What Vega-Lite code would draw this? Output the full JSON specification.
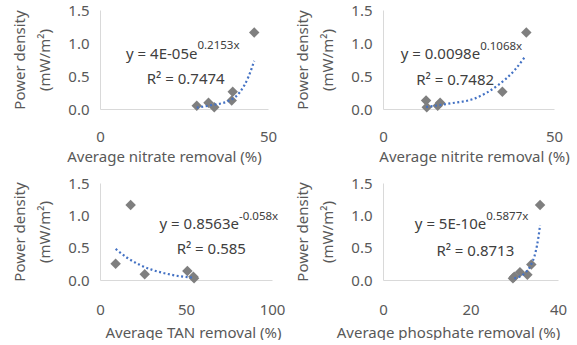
{
  "$schema": "https://vega.github.io/schema/vega-lite/v6.json",
  "padding": {"left": 12, "top": 3, "right": 5, "bottom": 0},
  "background": "white",
  "datasets": {
    "nitrate": [
      {"removal": 28.8, "power": 0.05}, {"removal": 32.3, "power": 0.095}, {"removal": 34.0, "power": 0.026},
      {"removal": 39.2, "power": 0.13}, {"removal": 39.5, "power": 0.26}, {"removal": 45.9, "power": 1.16}
    ],
    "nitrate_trend": [
      {"removal": 28.8, "power": 0.02}, {"removal": 33.3, "power": 0.06}, {"removal": 38.2, "power": 0.12},
      {"removal": 41.7, "power": 0.26}, {"removal": 44.2, "power": 0.49}, {"removal": 45.9, "power": 0.73}
    ],
    "nitrite": [
      {"removal": 12.6, "power": 0.13}, {"removal": 12.8, "power": 0.026}, {"removal": 16.0, "power": 0.05},
      {"removal": 16.7, "power": 0.095}, {"removal": 34.9, "power": 0.26}, {"removal": 41.9, "power": 1.16}
    ],
    "nitrite_trend": [
      {"removal": 12.6, "power": 0.03}, {"removal": 19.0, "power": 0.08}, {"removal": 26.8, "power": 0.16},
      {"removal": 33.6, "power": 0.36}, {"removal": 38.5, "power": 0.59}, {"removal": 41.5, "power": 0.79}
    ],
    "tan": [
      {"removal": 9.1, "power": 0.25}, {"removal": 17.8, "power": 1.16}, {"removal": 26.0, "power": 0.09},
      {"removal": 50.8, "power": 0.14}, {"removal": 54.3, "power": 0.05}, {"removal": 54.7, "power": 0.026}
    ],
    "tan_trend": [
      {"removal": 9.1, "power": 0.48}, {"removal": 16.0, "power": 0.34}, {"removal": 22.7, "power": 0.24},
      {"removal": 30.0, "power": 0.16}, {"removal": 38.2, "power": 0.1}, {"removal": 46.0, "power": 0.06},
      {"removal": 54.7, "power": 0.036}
    ],
    "phosphate": [
      {"removal": 29.7, "power": 0.026}, {"removal": 30.0, "power": 0.05}, {"removal": 31.3, "power": 0.12},
      {"removal": 33.0, "power": 0.08}, {"removal": 33.9, "power": 0.24}, {"removal": 35.9, "power": 1.16}
    ],
    "phosphate_trend": [
      {"removal": 30.0, "power": 0.026}, {"removal": 32.3, "power": 0.1}, {"removal": 33.8, "power": 0.23},
      {"removal": 34.9, "power": 0.44}, {"removal": 35.5, "power": 0.65}, {"removal": 35.9, "power": 0.85}
    ]
  },
  "concat": [
    {
      "width": 168, "height": 99,
      "layer": [
        {
          "data": {"name": "nitrate"},
          "mark": {"type": "point", "shape": "diamond", "filled": true, "color": "#7f7f7f", "opacity": 1, "size": 110},
          "encoding": {
            "x": {"field": "removal", "type": "quantitative", "scale": {"domain": [0, 50]},
                  "axis": {"values": [0, 50], "title": "Average nitrate removal (%)", "labelPadding": 20, "titlePadding": 5, "titleX": 64}},
            "y": {"field": "power", "type": "quantitative", "scale": {"domain": [0, 1.5], "nice": false},
                  "axis": {"tickCount": 3, "format": ".1f", "title": ["Power density", "(mW/m²)"]}}
          }
        },
        {
          "data": {"name": "nitrate_trend"},
          "mark": {"type": "line", "color": "#4472c4", "strokeWidth": 2.2, "strokeDash": [2, 2.5], "interpolate": "monotone"},
          "encoding": {"x": {"field": "removal", "type": "quantitative"}, "y": {"field": "power", "type": "quantitative"}}
        },
        {
          "data": {"values": [{"label": "y = 4E-05e"}]},
          "mark": {"type": "text", "align": "right", "baseline": "middle", "font": "Noto Sans", "fontSize": 15, "color": "#404040"},
          "encoding": {"text": {"field": "label"}, "x": {"datum": 29.0, "type": "quantitative"}, "y": {"datum": 0.84, "type": "quantitative"}}
        },
        {
          "data": {"values": [{"label": "0.2153x"}]},
          "mark": {"type": "text", "align": "left", "baseline": "middle", "font": "Noto Sans", "fontSize": 11.5, "color": "#404040"},
          "encoding": {"text": {"field": "label"}, "x": {"datum": 29.0, "type": "quantitative"}, "y": {"datum": 0.955, "type": "quantitative"}}
        },
        {
          "data": {"values": [{"label": "R² = 0.7474"}]},
          "mark": {"type": "text", "align": "center", "baseline": "middle", "font": "Noto Sans", "fontSize": 15, "color": "#404040"},
          "encoding": {"text": {"field": "label"}, "x": {"datum": 25.5, "type": "quantitative"}, "y": {"datum": 0.455, "type": "quantitative"}}
        }
      ]
    },
    {
      "width": 171, "height": 99,
      "layer": [
        {
          "data": {"name": "nitrite"},
          "mark": {"type": "point", "shape": "diamond", "filled": true, "color": "#7f7f7f", "opacity": 1, "size": 110},
          "encoding": {
            "x": {"field": "removal", "type": "quantitative", "scale": {"domain": [0, 50]},
                  "axis": {"values": [0, 50], "title": "Average nitrite removal (%)", "labelPadding": 20, "titlePadding": 5, "titleX": 91}},
            "y": {"field": "power", "type": "quantitative", "scale": {"domain": [0, 1.5], "nice": false},
                  "axis": {"tickCount": 3, "format": ".1f", "title": ["Power density", "(mW/m²)"]}}
          }
        },
        {
          "data": {"name": "nitrite_trend"},
          "mark": {"type": "line", "color": "#4472c4", "strokeWidth": 2.2, "strokeDash": [2, 2.5], "interpolate": "monotone"},
          "encoding": {"x": {"field": "removal", "type": "quantitative"}, "y": {"field": "power", "type": "quantitative"}}
        },
        {
          "data": {"values": [{"label": "y = 0.0098e"}]},
          "mark": {"type": "text", "align": "right", "baseline": "middle", "font": "Noto Sans", "fontSize": 15, "color": "#404040"},
          "encoding": {"text": {"field": "label"}, "x": {"datum": 28.4, "type": "quantitative"}, "y": {"datum": 0.83, "type": "quantitative"}}
        },
        {
          "data": {"values": [{"label": "0.1068x"}]},
          "mark": {"type": "text", "align": "left", "baseline": "middle", "font": "Noto Sans", "fontSize": 11.5, "color": "#404040"},
          "encoding": {"text": {"field": "label"}, "x": {"datum": 28.4, "type": "quantitative"}, "y": {"datum": 0.94, "type": "quantitative"}}
        },
        {
          "data": {"values": [{"label": "R² = 0.7482"}]},
          "mark": {"type": "text", "align": "center", "baseline": "middle", "font": "Noto Sans", "fontSize": 15, "color": "#404040"},
          "encoding": {"text": {"field": "label"}, "x": {"datum": 21.1, "type": "quantitative"}, "y": {"datum": 0.44, "type": "quantitative"}}
        }
      ]
    },
    {
      "width": 172, "height": 97,
      "layer": [
        {
          "data": {"name": "tan"},
          "mark": {"type": "point", "shape": "diamond", "filled": true, "color": "#7f7f7f", "opacity": 1, "size": 110},
          "encoding": {
            "x": {"field": "removal", "type": "quantitative", "scale": {"domain": [0, 100]},
                  "axis": {"values": [0, 50, 100], "title": "Average TAN removal (%)", "labelPadding": 22, "titlePadding": 8, "titleX": 93}},
            "y": {"field": "power", "type": "quantitative", "scale": {"domain": [0, 1.5], "nice": false},
                  "axis": {"tickCount": 3, "format": ".1f", "title": ["Power density", "(mW/m²)"]}}
          }
        },
        {
          "data": {"name": "tan_trend"},
          "mark": {"type": "line", "color": "#4472c4", "strokeWidth": 2.2, "strokeDash": [2, 2.5], "interpolate": "monotone"},
          "encoding": {"x": {"field": "removal", "type": "quantitative"}, "y": {"field": "power", "type": "quantitative"}}
        },
        {
          "data": {"values": [{"label": "y = 0.8563e"}]},
          "mark": {"type": "text", "align": "right", "baseline": "middle", "font": "Noto Sans", "fontSize": 15, "color": "#404040"},
          "encoding": {"text": {"field": "label"}, "x": {"datum": 80.8, "type": "quantitative"}, "y": {"datum": 0.87, "type": "quantitative"}}
        },
        {
          "data": {"values": [{"label": "-0.058x"}]},
          "mark": {"type": "text", "align": "left", "baseline": "middle", "font": "Noto Sans", "fontSize": 11.5, "color": "#404040"},
          "encoding": {"text": {"field": "label"}, "x": {"datum": 80.8, "type": "quantitative"}, "y": {"datum": 0.98, "type": "quantitative"}}
        },
        {
          "data": {"values": [{"label": "R² = 0.585"}]},
          "mark": {"type": "text", "align": "center", "baseline": "middle", "font": "Noto Sans", "fontSize": 15, "color": "#404040"},
          "encoding": {"text": {"field": "label"}, "x": {"datum": 64.7, "type": "quantitative"}, "y": {"datum": 0.476, "type": "quantitative"}}
        }
      ]
    },
    {
      "width": 175, "height": 97,
      "layer": [
        {
          "data": {"name": "phosphate"},
          "mark": {"type": "point", "shape": "diamond", "filled": true, "color": "#7f7f7f", "opacity": 1, "size": 110},
          "encoding": {
            "x": {"field": "removal", "type": "quantitative", "scale": {"domain": [0, 40]},
                  "axis": {"values": [0, 20, 40], "title": "Average phosphate removal (%)", "labelPadding": 22, "titlePadding": 8, "titleX": 65}},
            "y": {"field": "power", "type": "quantitative", "scale": {"domain": [0, 1.5], "nice": false},
                  "axis": {"tickCount": 3, "format": ".1f", "title": ["Power density", "(mW/m²)"]}}
          }
        },
        {
          "data": {"name": "phosphate_trend"},
          "mark": {"type": "line", "color": "#4472c4", "strokeWidth": 2.2, "strokeDash": [2, 2.5], "interpolate": "monotone"},
          "encoding": {"x": {"field": "removal", "type": "quantitative"}, "y": {"field": "power", "type": "quantitative"}}
        },
        {
          "data": {"values": [{"label": "y = 5E-10e"}]},
          "mark": {"type": "text", "align": "right", "baseline": "middle", "font": "Noto Sans", "fontSize": 15, "color": "#404040"},
          "encoding": {"text": {"field": "label"}, "x": {"datum": 23.6, "type": "quantitative"}, "y": {"datum": 0.87, "type": "quantitative"}}
        },
        {
          "data": {"values": [{"label": "0.5877x"}]},
          "mark": {"type": "text", "align": "left", "baseline": "middle", "font": "Noto Sans", "fontSize": 11.5, "color": "#404040"},
          "encoding": {"text": {"field": "label"}, "x": {"datum": 23.6, "type": "quantitative"}, "y": {"datum": 0.98, "type": "quantitative"}}
        },
        {
          "data": {"values": [{"label": "R² = 0.8713"}]},
          "mark": {"type": "text", "align": "center", "baseline": "middle", "font": "Noto Sans", "fontSize": 15, "color": "#404040"},
          "encoding": {"text": {"field": "label"}, "x": {"datum": 21.1, "type": "quantitative"}, "y": {"datum": 0.454, "type": "quantitative"}}
        }
      ]
    }
  ],
  "columns": 2,
  "spacing": {"row": 74, "column": 111},
  "bounds": "flush",
  "config": {
    "view": {"stroke": null},
    "axis": {
      "domainColor": "#d9d9d9", "domainWidth": 1, "ticks": false, "grid": false,
      "labelFont": "Noto Sans", "labelFontSize": 15, "labelColor": "#595959", "labelFlush": false, "labelOverlap": false,
      "titleFont": "Noto Sans", "titleFontSize": 15, "titleFontWeight": "normal", "titleColor": "#595959"
    },
    "axisY": {"labelPadding": 11, "titlePadding": 15, "titleLineHeight": 25}
  }
}
